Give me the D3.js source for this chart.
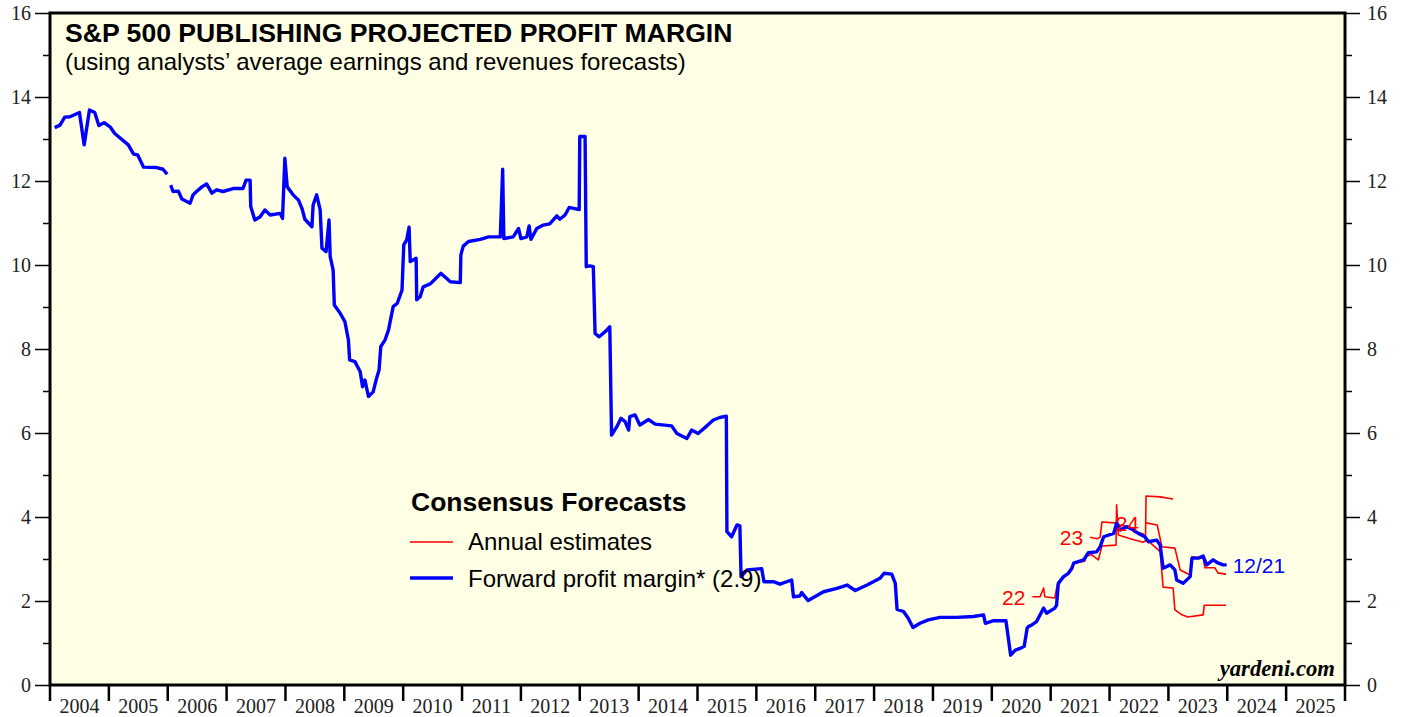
<!DOCTYPE html>
<html>
<head>
<meta charset="utf-8">
<script src="https://cdn.jsdelivr.net/npm/d3@7"></script>
<style>
  body { margin: 0; background: #fff; }
  svg text { font-family: Arial, "Liberation Sans", sans-serif; }
  .tick-label { font-family: "Liberation Serif", "Times New Roman", serif !important; font-size: 20px; fill: #222; }
</style>
</head>
<body>
<div id="chart"></div>
<script>
// Data
const yearLabels = d3.range(2004, 2026);
const yTicks = [0, 2, 4, 6, 8, 10, 12, 14, 16];

// forward profit margin (null = gap in the series)
const fwdDates = [2004.08, 2004.17, 2004.25, 2004.34, 2004.50, 2004.58, 2004.67, 2004.76, 2004.83, 2004.92,
  2005.02, 2005.10, 2005.33, 2005.42, 2005.49, 2005.59, 2005.81, 2005.92, 2005.99, 2006.02,
  2006.05, 2006.09, 2006.18, 2006.24, 2006.38, 2006.43, 2006.49, 2006.58, 2006.66, 2006.75,
  2006.83, 2006.94, 2007.11, 2007.28, 2007.33, 2007.40, 2007.41, 2007.48, 2007.57, 2007.65,
  2007.74, 2007.91, 2007.95, 2007.99, 2008.03, 2008.13, 2008.22, 2008.28, 2008.33, 2008.45,
  2008.47, 2008.53, 2008.59, 2008.62, 2008.69, 2008.74, 2008.76, 2008.81, 2008.83, 2008.93,
  2009.01, 2009.07, 2009.09, 2009.18, 2009.27, 2009.31, 2009.35, 2009.41, 2009.49, 2009.54,
  2009.59, 2009.62, 2009.69, 2009.75, 2009.83, 2009.90, 2009.98, 2010.01, 2010.06, 2010.10,
  2010.12, 2010.22, 2010.23, 2010.29, 2010.34, 2010.46, 2010.54, 2010.64, 2010.74, 2010.80,
  2010.97, 2010.98, 2011.02, 2011.11, 2011.31, 2011.45, 2011.65, 2011.69, 2011.71, 2011.87,
  2011.96, 2012.00, 2012.10, 2012.14, 2012.17, 2012.27, 2012.38, 2012.49, 2012.61, 2012.66,
  2012.75, 2012.82, 2012.99, 2013.00, 2013.09, 2013.11, 2013.17, 2013.23, 2013.26, 2013.33,
  2013.46, 2013.51, 2013.54, 2013.63, 2013.70, 2013.77, 2013.83, 2013.85, 2013.94, 2014.02,
  2014.17, 2014.28, 2014.56, 2014.65, 2014.82, 2014.90, 2015.01, 2015.16, 2015.27, 2015.38,
  2015.49, 2015.50, 2015.58, 2015.67, 2015.72, 2015.74, 2015.84, 2016.09, 2016.13, 2016.29,
  2016.40, 2016.60, 2016.63, 2016.74, 2016.77, 2016.88, 2017.14, 2017.37, 2017.54, 2017.68,
  2017.88, 2018.02, 2018.10, 2018.17, 2018.30, 2018.36, 2018.39, 2018.50, 2018.58, 2018.66,
  2018.78, 2018.92, 2019.12, 2019.40, 2019.69, 2019.86, 2019.89, 2020.03, 2020.24, 2020.32,
  2020.40, 2020.48, 2020.55, 2020.60, 2020.62, 2020.68, 2020.76, 2020.88, 2020.93, 2021.07,
  2021.10, 2021.13, 2021.22, 2021.30, 2021.36, 2021.39, 2021.56, 2021.64, 2021.78, 2021.84,
  2021.90, 2022.07, 2022.12, 2022.18, 2022.29, 2022.41, 2022.49, 2022.60, 2022.66, 2022.80,
  2022.86, 2022.91, 2023.03, 2023.11, 2023.14, 2023.25, 2023.37, 2023.40, 2023.51, 2023.59,
  2023.65, 2023.76, 2023.85, 2023.93, 2023.99];
const fwdValues = [13.27, 13.33, 13.52, 13.53, 13.63, 12.86, 13.69, 13.63, 13.32, 13.39,
  13.29, 13.13, 12.86, 12.64, 12.62, 12.33, 12.32, 12.28, 12.16, null,
  11.90, 11.75, 11.76, 11.57, 11.47, 11.67, 11.75, 11.86, 11.93, 11.71,
  11.79, 11.75, 11.82, 11.82, 12.02, 12.02, 11.39, 11.07, 11.15, 11.31,
  11.19, 11.23, 11.11, 12.54, 11.86, 11.67, 11.55, 11.35, 11.09, 10.91,
  11.43, 11.67, 11.31, 10.40, 10.32, 11.07, 10.20, 9.88, 9.05, 8.85,
  8.65, 8.21, 7.74, 7.70, 7.46, 7.10, 7.26, 6.87, 6.98, 7.26,
  7.50, 8.06, 8.21, 8.45, 9.01, 9.09, 9.40, 10.48, 10.60, 10.90,
  10.08, 10.16, 9.17, 9.25, 9.48, 9.55, 9.66, 9.80, 9.68, 9.60,
  9.58, 10.24, 10.45, 10.56, 10.61, 10.67, 10.67, 12.28, 10.63, 10.67,
  10.87, 10.63, 10.67, 10.93, 10.61, 10.87, 10.95, 10.98, 11.17, 11.09,
  11.19, 11.37, 11.32, 13.06, 13.06, 9.96, 9.98, 9.96, 8.37, 8.29,
  8.45, 8.53, 5.95, 6.15, 6.35, 6.27, 6.07, 6.39, 6.43, 6.19,
  6.32, 6.21, 6.17, 5.99, 5.87, 6.07, 5.99, 6.17, 6.31, 6.37,
  6.40, 3.65, 3.53, 3.81, 3.79, 2.58, 2.74, 2.77, 2.46, 2.46,
  2.40, 2.50, 2.10, 2.12, 2.20, 2.01, 2.22, 2.30, 2.38, 2.25,
  2.38, 2.48, 2.54, 2.66, 2.64, 2.42, 1.80, 1.75, 1.59, 1.37,
  1.47, 1.55, 1.61, 1.61, 1.63, 1.67, 1.47, 1.53, 1.53, 0.71,
  0.83, 0.87, 0.92, 1.35, 1.39, 1.43, 1.51, 1.83, 1.71, 1.83,
  1.90, 2.42, 2.58, 2.66, 2.78, 2.90, 2.98, 3.15, 3.17, 3.29,
  3.53, 3.61, 3.85, 3.69, 3.77, 3.69, 3.61, 3.53, 3.41, 3.45,
  3.33, 2.78, 2.86, 2.74, 2.50, 2.42, 2.58, 3.02, 3.02, 3.07,
  2.86, 2.98, 2.90, 2.86, 2.86];

// annual estimates
const est22Dates = [2020.69, 2020.82, 2020.88, 2020.90, 2021.07, 2021.11, 2021.22, 2021.36, 2021.39, 2021.58,
  2021.61, 2021.70, 2021.81, 2021.87, 2022.11, 2022.12, 2022.15, 2022.35, 2022.57, 2022.61,
  2022.62, 2022.86, 2023.08];
const est22Values = [2.10, 2.10, 2.31, 2.10, 2.07, 2.38, 2.57, 2.74, 2.90, 2.95,
  3.07, 3.10, 2.98, 3.31, 3.33, 4.29, 3.57, 3.48, 3.40, 3.43,
  4.50, 4.48, 4.43];
const est23Dates = [2021.67, 2021.79, 2021.84, 2021.87, 2022.09, 2022.18, 2022.35, 2022.42, 2022.57, 2022.64,
  2022.81, 2022.86, 2022.91, 2023.08, 2023.11, 2023.23, 2023.33, 2023.59, 2023.61, 2023.98];
const est23Values = [3.52, 3.48, 3.52, 3.88, 3.86, 3.81, 3.76, 3.64, 3.60, 3.45,
  3.24, 3.17, 2.33, 2.31, 1.79, 1.67, 1.62, 1.67, 1.90, 1.90];
const est24Dates = [2022.62, 2022.81, 2022.89, 2023.11, 2023.20, 2023.37, 2023.40, 2023.59, 2023.62, 2023.79,
  2023.84, 2023.98];
const est24Values = [3.86, 3.81, 3.29, 3.26, 2.74, 2.62, 3.05, 3.02, 2.79, 2.79,
  2.67, 2.64];

const estLabels = ['22', '23', '24'];

async function draw() {
    let dimensions = {
        width: 1405,
        height: 717,
        left: 50,
        right: 1345,
        top: 13,
        bottom: 685
    };

    const svg = d3.select('#chart')
        .append('svg')
        .attr('width', dimensions.width)
        .attr('height', dimensions.height);

    // Scales
    const xScale = d3.scaleLinear()
        .domain([2004, 2026])
        .range([dimensions.left, dimensions.right]);

    const yScale = d3.scaleLinear()
        .domain([0, 16])
        .range([dimensions.bottom, dimensions.top]);

    // Plot background
    svg.append('rect')
        .attr('x', dimensions.left)
        .attr('y', dimensions.top)
        .attr('width', dimensions.right - dimensions.left)
        .attr('height', dimensions.bottom - dimensions.top)
        .attr('fill', '#ffffe5');

    // Y axes
    const leftAxis = d3.axisLeft(yScale)
        .tickValues(d3.range(0, 17, 1))
        .tickSize(0)
        .tickFormat(d => d % 2 === 0 ? d : '');
    const leftGroup = svg.append('g')
        .attr('transform', `translate(${dimensions.left}, 0)`)
        .call(leftAxis);
    leftGroup.select('.domain').remove();
    leftGroup.selectAll('.tick line')
        .attr('x2', d => d % 2 === 0 ? -15 : -7)
        .attr('stroke', '#000')
        .attr('stroke-width', 1.5);
    leftGroup.selectAll('.tick text')
        .attr('class', 'tick-label')
        .attr('x', -19)
        .attr('dy', '0.33em');

    const rightAxis = d3.axisRight(yScale)
        .tickValues(d3.range(0, 17, 1))
        .tickSize(0)
        .tickFormat(d => d % 2 === 0 ? d : '');
    const rightGroup = svg.append('g')
        .attr('transform', `translate(${dimensions.right}, 0)`)
        .call(rightAxis);
    rightGroup.select('.domain').remove();
    rightGroup.selectAll('.tick line')
        .attr('x2', d => d % 2 === 0 ? 15 : 7)
        .attr('stroke', '#000')
        .attr('stroke-width', 1.5);
    rightGroup.selectAll('.tick text')
        .attr('class', 'tick-label')
        .attr('x', 22)
        .attr('dy', '0.33em');

    // X axis: year boundaries as ticks, labels in the middle of each year
    const xAxisGroup = svg.append('g')
        .attr('transform', `translate(0, ${dimensions.bottom})`);
    xAxisGroup.selectAll('line')
        .data(d3.range(2004, 2027))
        .join('line')
        .attr('x1', d => xScale(d))
        .attr('x2', d => xScale(d))
        .attr('y1', 0)
        .attr('y2', 16)
        .attr('stroke', '#000')
        .attr('stroke-width', 2.5);
    xAxisGroup.selectAll('text')
        .data(yearLabels)
        .join('text')
        .attr('class', 'tick-label')
        .attr('x', d => xScale(d + 0.5))
        .attr('y', 28)
        .attr('text-anchor', 'middle')
        .text(d => d);

    // Lines
    const line = d3.line()
        .defined(d => d[1] !== null)
        .x(d => xScale(d[0]))
        .y(d => yScale(d[1]));

    const estimates = [
        d3.zip(est22Dates, est22Values),
        d3.zip(est23Dates, est23Values),
        d3.zip(est24Dates, est24Values)
    ];

    svg.append('g')
        .selectAll('path')
        .data(estimates)
        .join('path')
        .attr('d', line)
        .attr('fill', 'none')
        .attr('stroke', '#ff0000')
        .attr('stroke-width', 1.6)
        .attr('stroke-linejoin', 'round');

    svg.append('path')
        .datum(d3.zip(fwdDates, fwdValues))
        .attr('d', line)
        .attr('fill', 'none')
        .attr('stroke', '#0000ff')
        .attr('stroke-width', 3.4)
        .attr('stroke-linejoin', 'round');

    // estimate year labels, left of each line start
    svg.append('g')
        .selectAll('text')
        .data(estimates)
        .join('text')
        .attr('x', d => xScale(d[0][0]) - 7)
        .attr('y', (d, i) => yScale(d[0][1]) + 8)
        .attr('text-anchor', 'end')
        .attr('fill', '#ff0000')
        .style('font-size', '21px')
        .text((d, i) => estLabels[i]);

    // last value date label
    const last = d3.zip(fwdDates, fwdValues).slice(-1)[0];
    svg.append('text')
        .attr('x', xScale(last[0]) + 6)
        .attr('y', yScale(last[1]) + 8)
        .attr('fill', '#0000ff')
        .style('font-size', '21px')
        .text('12/21');

    // Frame
    svg.append('rect')
        .attr('x', dimensions.left)
        .attr('y', dimensions.top)
        .attr('width', dimensions.right - dimensions.left)
        .attr('height', dimensions.bottom - dimensions.top)
        .attr('fill', 'none')
        .attr('stroke', '#000')
        .attr('stroke-width', 3);

    // Titles
    svg.append('text')
        .attr('x', 65)
        .attr('y', 42)
        .style('font-size', '26.6px')
        .style('font-weight', 'bold')
        .text('S&P 500 PUBLISHING PROJECTED PROFIT MARGIN');
    svg.append('text')
        .attr('x', 65)
        .attr('y', 70)
        .style('font-size', '24px')
        .text('(using analysts’ average earnings and revenues forecasts)');

    // Legend
    const legend = svg.append('g')
        .attr('transform', 'translate(410, 0)');
    legend.append('text')
        .attr('x', 1)
        .attr('y', 511)
        .style('font-size', '26.5px')
        .style('font-weight', 'bold')
        .text('Consensus Forecasts');
    legend.append('line')
        .attr('x1', 0).attr('x2', 43)
        .attr('y1', 542).attr('y2', 542)
        .attr('stroke', '#ff0000')
        .attr('stroke-width', 1.6);
    legend.append('text')
        .attr('x', 58)
        .attr('y', 550)
        .style('font-size', '24px')
        .text('Annual estimates');
    legend.append('line')
        .attr('x1', 0).attr('x2', 43)
        .attr('y1', 578).attr('y2', 578)
        .attr('stroke', '#0000ff')
        .attr('stroke-width', 3.4);
    legend.append('text')
        .attr('x', 58)
        .attr('y', 587)
        .style('font-size', '24px')
        .text('Forward profit margin* (2.9)');

    // Source
    svg.append('text')
        .attr('x', 1335)
        .attr('y', 676)
        .attr('text-anchor', 'end')
        .style('font-family', '"Liberation Serif", "Times New Roman", serif')
        .style('font-size', '22.7px')
        .style('font-weight', 'bold')
        .style('font-style', 'italic')
        .text('yardeni.com');
}

draw();
</script>
</body>
</html>
